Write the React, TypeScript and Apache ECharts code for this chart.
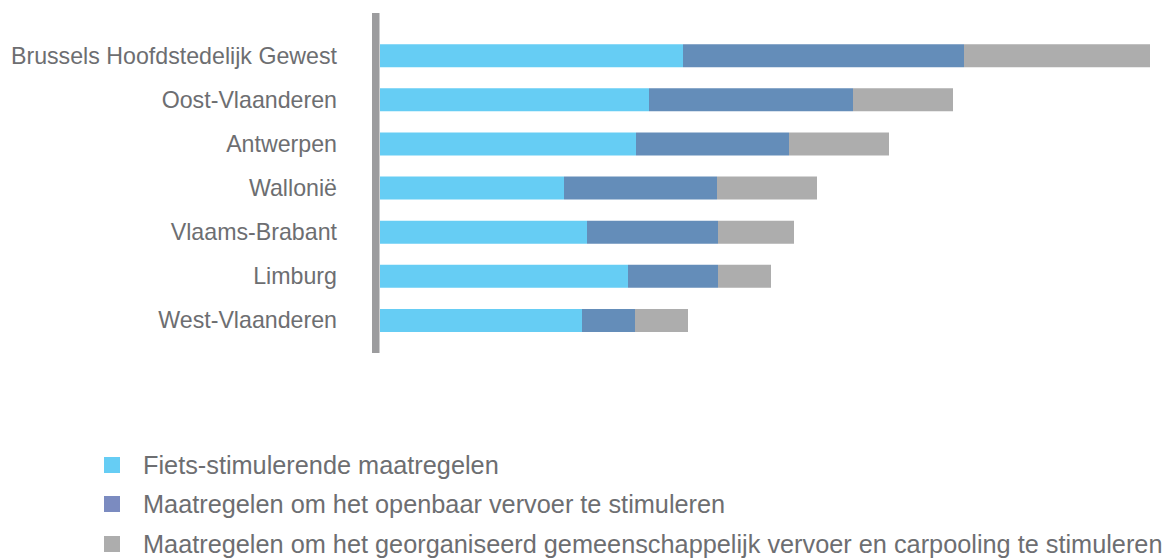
import React, { useEffect, useRef } from "react";
import * as echarts from "echarts";

const categories = [
  "Brussels Hoofdstedelijk Gewest",
  "Oost-Vlaanderen",
  "Antwerpen",
  "Wallonië",
  "Vlaams-Brabant",
  "Limburg",
  "West-Vlaanderen",
];
const seriesNames = [
  "Fiets-stimulerende maatregelen",
  "Maatregelen om het openbaar vervoer te stimuleren",
  "Maatregelen om het georganiseerd gemeenschappelijk vervoer en carpooling te stimuleren",
];
const fietsValues = [30.3, 26.9, 25.6, 18.4, 20.7, 24.8, 20.2];
const ovValues = [28.1, 20.4, 15.3, 15.3, 13.1, 9.0, 5.3];
const carpoolValues = [18.6, 10.0, 10.0, 10.0, 7.6, 5.3, 5.3];
const barColors = ["#66cdf4", "#648db9", "#adadad"];
const legendColors = ["#66cdf4", "#7b8bc0", "#adadad"];
const legendCenters = [465, 504, 544];

const FONT = "'Liberation Sans', Arial, sans-serif";
const TEXT = "#6d6e71";

export default function App() {
  const ref = useRef<HTMLDivElement>(null);
  useEffect(() => {
    if (!ref.current) return;
    const chart = echarts.init(ref.current, undefined, { renderer: "svg" });
    const data = [fietsValues, ovValues, carpoolValues];
    chart.setOption({
      animation: false,
      backgroundColor: "#ffffff",
      textStyle: { fontFamily: FONT },
      grid: { left: 380, top: 33.6, width: 780, height: 308.9, containLabel: false },
      xAxis: {
        type: "value",
        min: 0,
        max: 78,
        show: false,
      },
      yAxis: {
        type: "category",
        inverse: true,
        data: categories,
        axisLine: { show: false },
        axisTick: { show: false },
        splitLine: { show: false },
        axisLabel: { color: TEXT, fontSize: 23.2, fontFamily: FONT, margin: 43 },
      },
      legend: seriesNames.map((n, i) => ({
        orient: "vertical",
        left: 104,
        top: legendCenters[i] - 12.5,
        padding: 0,
        itemWidth: 16,
        itemHeight: 16,
        icon: "rect",
        textStyle: { color: TEXT, fontSize: 25.3, fontFamily: FONT, padding: [0, 0, 0, 18] },
        data: [{ name: n, itemStyle: { color: legendColors[i] } }],
      })),
      graphic: [
        {
          type: "rect",
          shape: { x: 372, y: 13, width: 7.5, height: 340 },
          style: { fill: "#9c9c9e" },
          silent: true,
        },
      ],
      series: seriesNames.map((n, i) => ({
        name: n,
        type: "bar",
        stack: "total",
        barWidth: 23,
        data: data[i],
        itemStyle: { color: barColors[i] },
      })),
    });
    return () => chart.dispose();
  }, []);
  return (
    <div
      ref={ref}
      style={{ position: "fixed", left: 0, top: 0, width: 1168, height: 559 }}
    />
  );
}
